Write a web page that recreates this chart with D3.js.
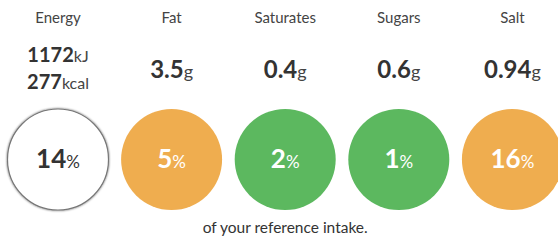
<!DOCTYPE html>
<html>
<head>
<meta charset="utf-8">
<script src="https://cdn.jsdelivr.net/npm/d3@7"></script>
<style>
  body { margin: 0; background: #fff; }
  text { font-family: Lato, 'Open Sans', sans-serif; }
</style>
</head>
<body>
<div id="chart"></div>
<script>
var width = 558
var height = 240

// nutrient data
var nutrients = ['Energy', 'Fat', 'Saturates', 'Sugars', 'Salt']
var amounts = [['1172', '277'], ['3.5'], ['0.4'], ['0.6'], ['0.94']]
var units = [['kJ', 'kcal'], ['g'], ['g'], ['g'], ['g']]
var percents = [14, 5, 2, 1, 16]
var levels = ['none', 'medium', 'low', 'low', 'medium']
var footnote = 'of your reference intake.'

var colors = { none: '#fff', medium: '#efad4f', low: '#5cb85f' }

var svg = d3
  .select('#chart')
  .append('svg')
  .attr('width', width)
  .attr('height', height)

var defs = svg.append('defs')
var filter = defs.append('filter').attr('id', 'shadow')
  .attr('x', '-20%').attr('y', '-20%').attr('width', '140%').attr('height', '140%')
filter.append('feDropShadow')
  .attr('dx', 0).attr('dy', 0).attr('stdDeviation', 1.2)
  .attr('flood-color', '#000').attr('flood-opacity', 0.6)

var x = d3.scalePoint()
  .domain(nutrients)
  .range([58, 512.4])

var col = svg.selectAll('.col')
  .data(nutrients)
  .enter()
  .append('g')
  .attr('class', 'col')
  .attr('transform', d => 'translate(' + x(d) + ',0)')

col.append('text')
  .attr('y', 23)
  .attr('text-anchor', 'middle')
  .attr('font-size', 15)
  .attr('fill', '#444')
  .text(d => d)

col.each(function(d, i) {
  var g = d3.select(this)
  var vals = amounts[i]
  var big = vals.length > 1
  vals.forEach(function(v, j) {
    var t = g.append('text')
      .attr('y', big ? 62 + j * 27 : 77.5)
      .attr('text-anchor', 'middle')
      .attr('fill', '#333')
    t.append('tspan')
      .attr('font-weight', 'bold')
      .attr('font-size', big ? 20 : 24)
      .text(v)
    t.append('tspan')
      .attr('font-size', big ? 16 : 18)
      .attr('fill', '#444')
      .text(units[i][j])
  })

  var lvl = levels[i]
  g.append('circle')
    .attr('cy', 159.5)
    .attr('r', 50.5)
    .attr('fill', colors[lvl])
    .attr('stroke', lvl === 'none' ? '#777' : 'none')
    .attr('stroke-width', 1.2)
    .attr('filter', lvl === 'none' ? 'url(#shadow)' : null)

  var p = g.append('text')
    .attr('y', 168)
    .attr('text-anchor', 'middle')
    .attr('fill', lvl === 'none' ? '#333' : '#fff')
  p.append('tspan')
    .attr('font-weight', 'bold')
    .attr('font-size', 26)
    .text(percents[i])
  p.append('tspan')
    .attr('font-size', 17)
    .text('%')
})

svg.append('text')
  .attr('x', x('Saturates'))
  .attr('y', 233)
  .attr('text-anchor', 'middle')
  .attr('font-size', 15.5)
  .attr('fill', '#333')
  .text(footnote)
</script>
</body>
</html>
